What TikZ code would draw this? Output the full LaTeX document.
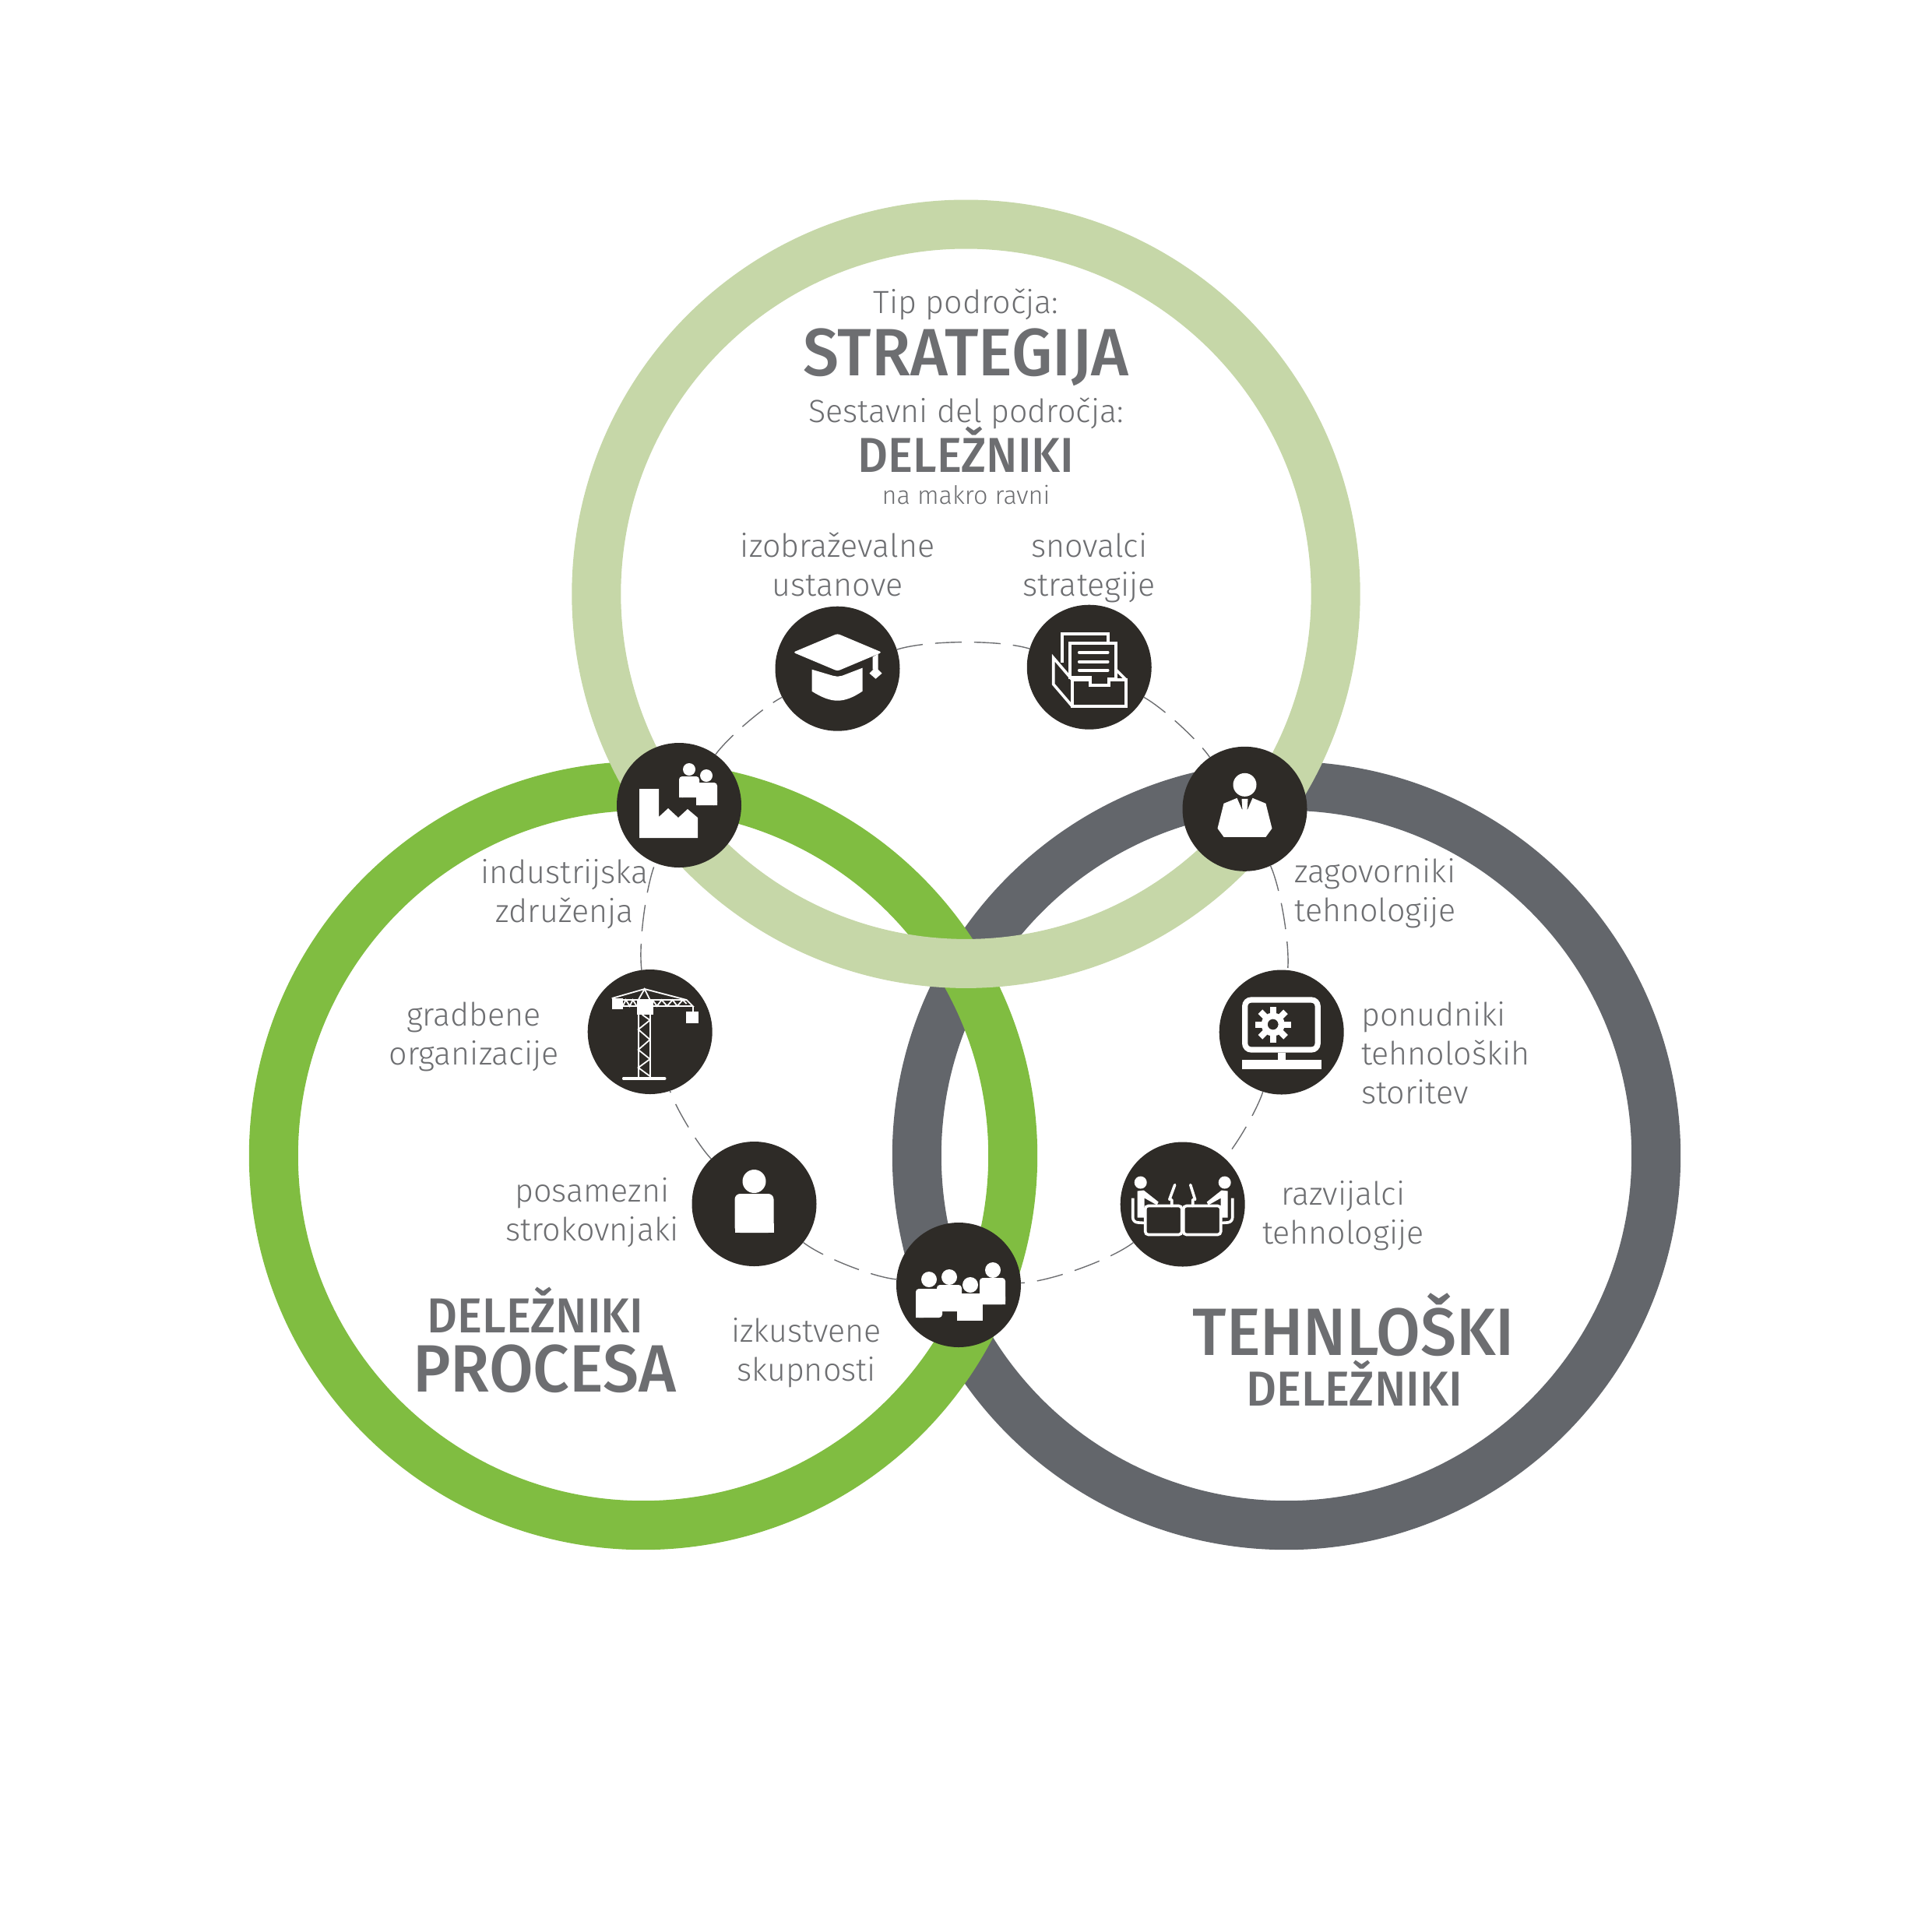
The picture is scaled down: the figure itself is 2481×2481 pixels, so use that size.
\documentclass[tikz,border=0pt]{standalone}
\usepackage{fontspec}
\setmainfont{Fira Sans Light}
\newfontfamily\headfont{Fira Sans Medium}[FakeStretch=0.956]
\usepackage{xcolor}
\usetikzlibrary{arrows.meta,positioning,calc}

\definecolor{ringtop}{HTML}{C6D7A8}
\definecolor{ringleft}{HTML}{80BD41}
\definecolor{ringright}{HTML}{63666B}
\definecolor{iconfill}{HTML}{2E2B27}
\definecolor{txtgray}{HTML}{6D6E71}

\tikzset{
    icon hat/.pic={
        \fill[white, rounded corners=1.5] (0,-45) -- (57,-21) -- (0,3) -- (-57,-21) -- cycle;
        \fill[white] (-33,1) -- (-6,9) -- (0,10) -- (6,9) -- (32,-1) -- (32,29) .. controls (20,37) and (10,41) .. (0,41) .. controls (-10,41) and (-20,37) .. (-33,29) -- cycle;
        \fill[white] (45,-15) -- (52,-19) -- (52,1) -- (45,1) -- cycle;
        \fill[white] (49,-2) -- (57,6) -- (49,13) -- (41,6) -- cycle;
    },
    icon archive/.pic={
        \draw[iconline] (-35,-6) -- (-35,-43) -- (24,-43) -- (24,-31);
        \draw[iconline] (-25,13) -- (-25,-31) -- (34,-31) -- (34,15) -- (25,15) -- (25,23) -- (1,23) -- (1,13) -- cycle;
        \draw[iconline] (1,16) -- (-22,16) -- (-22,50) -- (47,50) -- (47,16) -- (25,16);
        \draw[iconline] (-22,16) -- (-46,-12) -- (-46,22) -- (-22,50);
        \draw[iconline] (34,3) -- (47,16);
        \foreach \y in {-19,-7,4}
            \draw[iconline, line cap=round] (-13,\y) -- (24,\y);
    },
    icon factory/.pic={
        \fill[white] (-51,-21) -- (-26,-21) -- (-26,15) -- (-14,4) -- (-1,16) -- (11,5) -- (24,16) -- (24,42) -- (-51,42) -- cycle;
        \fill[white] (13,-46) circle (8) (35,-38) circle (8);
        \fill[white, rounded corners=2] (0,-10) -- (0,-37) -- (26,-37) -- (26,-10) -- cycle;
        \fill[white, rounded corners=2] (22,0) -- (22,-29) -- (49,-29) -- (49,0) -- cycle;
        \fill[white] (0,-10) rectangle (5,-15) (22,0) rectangle (27,-5) (44,0) rectangle (49,-5);
    },
    icon crane/.pic={
        \draw[iconthin] (-15,-22) -- (-15,60) (0,-22) -- (0,60);
        \draw[iconthin] (-10,-22) -- (0,-15) -- (-15,-3) -- (0,10) -- (-15,23) -- (0,35) -- (-15,46) -- (0,57);
        \draw[iconline, line cap=round] (-34,60) -- (19,60);
        \fill[white] (-17,-42) rectangle (4,-22);
        \fill[white] (-49,-43) rectangle (-35,-29);
        \fill[white] (46,-26) rectangle (62,-11);
        \draw[iconthin] (-49,-43) -- (-7,-55) -- (47,-41) -- (55,-33) -- (-35,-33);
        \draw[iconthin] (-35,-41) -- (47,-41);
        \draw[iconthin] (-15,-41) -- (-7,-55) -- (0,-41);
        \draw[iconthin] (-35,-33) -- (-31,-41) -- (-26,-33) -- (-22,-41) -- (-17,-33);
        \draw[iconthin] (4,-40) -- (9,-33) -- (15,-41) -- (22,-33) -- (29,-41) -- (35,-33) -- (42,-41) -- (47,-36);
        \draw[iconthin] (55,-33) -- (55,-26);
    },
    icon person/.pic={
        \fill[white] (0,-29) circle (15);
        \fill[white, rounded corners=3.5] (-25,37) -- (-25,-13) -- (25,-13) -- (25,37) -- cycle;
        \fill[white] (-25,37) rectangle (25,25);
    },
    icon group/.pic={
        \fill[white] (-38,-7) circle (10) (-12,-10) circle (10) (15,0) circle (10) (44,-19) circle (10);
        \fill[white, rounded corners=2] (-55,42) -- (-55,5) -- (-21,5) -- (-21,42) -- cycle;
        \fill[white, rounded corners=2] (-28,34) -- (-28,0) -- (4,0) -- (4,34) -- cycle;
        \fill[white] (-2,46) -- (-2,11) -- (31,11) -- (31,46) -- cycle;
        \fill[white, rounded corners=2] (27,25) -- (27,-9) -- (60,-9) -- (60,25) -- cycle;
        \fill[white] (-55,42) rectangle (-45,30) (27,25) rectangle (60,15);
    },
    icon suit/.pic={
        \fill[white] (0,-31) circle (15);
        \fill[white] (-27,-7) -- (-10,-14) -- (-3,2) -- (-4,-13) -- (4,-13) -- (3,2) -- (10,-14) -- (27,-7) -- (35,25) -- (27,36) -- (-27,36) -- (-35,25) -- cycle;
    },
    icon monitor/.pic={
        \draw[white, line width=3.6pt, rounded corners=4pt] (-47,-41.5) rectangle (46.5,22.5);
        \fill[white] (-5,26) rectangle (5,36);
        \fill[white] (-51,35) rectangle (51,47);
        \begin{scope}[shift={(-11,-10)}]
            \foreach \a in {0,45,...,315}
                \fill[white, rotate=\a] (-4,-23) rectangle (4,-14);
            \draw[white, line width=4pt] (0,0) circle (11);
        \end{scope}
    },
    icon devs/.pic={
        \fill[white] (-54,-28) circle (8) (54,-28) circle (8);
        \draw[iconline, rounded corners=2pt] (-48,2) rectangle (-1,39);
        \draw[iconline, rounded corners=2pt] (1,2) rectangle (49,39);
        \draw[iconline, rounded corners=3pt] (-64,-8) -- (-64,23) -- (-48,24);
        \draw[iconline, rounded corners=3pt] (64,-8) -- (64,23) -- (49,24);
        \fill[white] (-58,-17) -- (-50,-18) -- (-31,-3) -- (-33,1) -- (-49,-8) -- (-49,17) -- (-58,17) -- cycle;
        \fill[white] (58,-17) -- (50,-18) -- (31,-3) -- (33,1) -- (49,-8) -- (49,17) -- (58,17) -- cycle;
        \draw[iconline, line cap=round] (-10,-25) -- (-17,-6) (-14,-6) -- (-14,2);
        \draw[iconline, line cap=round] (10,-25) -- (16,-6) (13,-6) -- (13,2);
    }
}

\begin{document}
\begin{tikzpicture}[
    x=0.5pt, y=-0.5pt,
    icon/.style={circle, fill=iconfill, minimum size=80pt, inner sep=0pt, outer sep=0pt},
    ring/.style={line width=31.5pt},
    lbl/.style={inner sep=0pt, align=center, text=txtgray, font=\fontsize{20.6}{25}\selectfont},
    head/.style={inner sep=0pt, anchor=base, text=txtgray},
    headbig/.style={head, font=\headfont\fontsize{43}{43}\selectfont},
    headsmall/.style={head, font=\headfont\fontsize{31.5}{32}\selectfont},
    iconline/.style={white, line width=1.8pt},
    iconthin/.style={white, line width=0.9pt},
    dashring/.style={draw=txtgray, line width=0.7pt, dash pattern=on 17pt off 8pt}
]
\useasboundingbox (0,0) rectangle (2481,2481);

% three rings
\draw[ring, ringright] (1652,1484) circle (474.7);
\draw[ring, ringleft] (826,1484) circle (474.7);
\draw[ring, ringtop] (1240.5,762.7) circle (474.7);

% icons
\node[icon] (hat) at (1075.5,858.7) {};
\node[icon] (archive) at (1398.75,856.7) {};
\node[icon] (suit) at (1598.5,1038.8) {};
\node[icon] (monitor) at (1645.7,1325.5) {};
\node[icon] (devs) at (1518.7,1546.5) {};
\node[icon] (group) at (1231,1650) {};
\node[icon] (person) at (968.5,1546) {};
\node[icon] (crane) at (834.7,1325) {};
\node[icon] (factory) at (872,1034) {};

\foreach \a/\b/\c in {hat/archive/17.5,archive/suit/13.5,suit/monitor/15,monitor/devs/12.5,devs/group/18,group/person/16.5,person/crane/12.5,crane/factory/15,factory/hat/13.5}
    \draw[dashring] (\a) to[bend left=\c, looseness=0.6] (\b);

\pic at (hat) {icon hat};
\pic at (archive) {icon archive};
\pic at (suit) {icon suit};
\pic at (monitor) {icon monitor};
\pic at (devs) {icon devs};
\pic at (group) {icon group};
\pic at (person) {icon person};
\pic at (crane) {icon crane};
\pic at (factory) {icon factory};

% top circle text
\node[lbl, anchor=base] (tip) at (1240.5,402) {Tip področja:};
\node[headbig, below=40.35pt of tip.base, anchor=base] (strategija) {STRATEGIJA};
\node[lbl, below=30pt of strategija.base, anchor=base] (sestavni) {Sestavni del področja:};
\node[headsmall, below=32pt of sestavni.base, anchor=base] (delezniki) {DELEŽNIKI};
\node[lbl, font=\fontsize{16.2}{18}\selectfont, below=20.3pt of delezniki.base, anchor=base] (makro) {na makro ravni};

% labels of the icons
\node[lbl, above=6pt of hat] (hatlbl) {izobraževalne\\ustanove};
\node[lbl, above=1.2pt of archive] (archivelbl) {snovalci\\strategije};
\node[lbl, below=-5.4pt of factory, xshift=-73.5pt] (factorylbl) {industrijska\\združenja};
\node[lbl, align=left, below=-8.4pt of suit, anchor=north west, xshift=31.8pt] (suitlbl) {zagovorniki\\tehnologije};
\node[lbl, left=18.4pt of crane, yshift=-3pt] (cranelbl) {gradbene\\organizacije};
\node[lbl, align=left, right=11pt of monitor, yshift=-13.2pt] (monitorlbl) {ponudniki\\tehnoloških\\storitev};
\node[lbl, left=8.4pt of person, yshift=-5.6pt] (personlbl) {posamezni\\strokovnjaki};
\node[lbl, right=11pt of devs, yshift=-7.4pt] (devslbl) {razvijalci\\tehnologije};
\node[lbl, left=9.4pt of group, yshift=-43.4pt] (grouplbl) {izkustvene\\skupnosti};

% ring titles
\node[headsmall] (leftsmall) at (687.7,1711) {DELEŽNIKI};
\node[headbig] (procesa) at (699,1787.7) {PROCESA};
\node[headbig] (tehnoloski) at (1738,1740) {TEHNLOŠKI};
\node[headsmall] (rightsmall) at (1739,1805) {DELEŽNIKI};
\end{tikzpicture}
\end{document}
